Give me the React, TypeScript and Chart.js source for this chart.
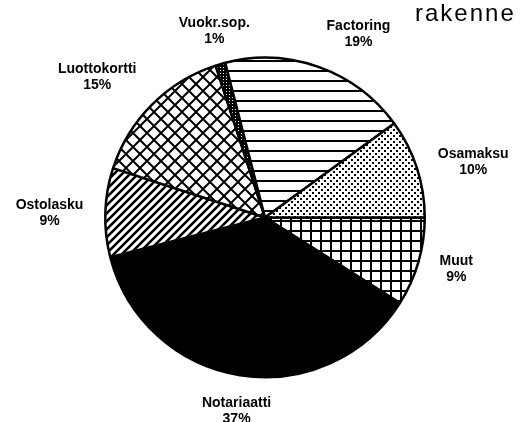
import React, { useEffect, useRef } from "react";
import { Chart, registerables } from "chart.js";

Chart.register(...registerables);

const categories = ["Muut", "Notariaatti", "Ostolasku", "Luottokortti", "Vuokr.sop.", "Factoring", "Osamaksu"];
const shares = [9, 37, 9, 15, 1, 19, 10];
const shareLabels = ["9%", "37%", "9%", "15%", "1%", "19%", "10%"];
const patternKinds = ["grid", "solid", "diag", "cross", "darkdots", "hlines", "dots"];
const titleText = "rakenne";

function makeTile(size: number, draw: (g: CanvasRenderingContext2D, s: number) => void, bg = "#fff") {
  const c = document.createElement("canvas");
  c.width = size;
  c.height = size;
  const g = c.getContext("2d")!;
  g.fillStyle = bg;
  g.fillRect(0, 0, size, size);
  g.fillStyle = "#000";
  g.strokeStyle = "#000";
  draw(g, size);
  const p = document.createElement("canvas").getContext("2d")!.createPattern(c, "repeat");
  return p as CanvasPattern;
}

function makePattern(kind: string): CanvasPattern | string {
  switch (kind) {
    case "grid":
      return makeTile(10, (g, s) => {
        g.fillRect(0, 0, 2, s);
        g.fillRect(0, 0, s, 2);
      });
    case "hlines":
      return makeTile(10, (g, s) => {
        g.fillRect(0, 0, s, 2);
      });
    case "diag":
      return makeTile(8, (g, s) => {
        g.lineWidth = 2.6;
        g.beginPath();
        g.moveTo(-1, s + 1);
        g.lineTo(s + 1, -1);
        g.moveTo(-2, 2);
        g.lineTo(2, -2);
        g.moveTo(s - 2, s + 2);
        g.lineTo(s + 2, s - 2);
        g.stroke();
      });
    case "cross":
      return makeTile(14, (g, s) => {
        g.lineWidth = 2;
        g.beginPath();
        g.moveTo(-1, s + 1);
        g.lineTo(s + 1, -1);
        g.moveTo(-1, -1);
        g.lineTo(s + 1, s + 1);
        g.stroke();
      });
    case "dots":
      return makeTile(6, (g) => {
        g.fillRect(0, 0, 2, 2);
        g.fillRect(3, 3, 2, 2);
      });
    case "darkdots":
      return makeTile(3, (g) => {
        g.fillStyle = "#fff";
        g.fillRect(1, 1, 1, 1);
      }, "#000");
    default:
      return "#000";
  }
}

const labelPlugin = {
  id: "outerLabels",
  afterDraw(chart: any) {
    const ctx: CanvasRenderingContext2D = chart.ctx;
    const meta = chart.getDatasetMeta(0);
    ctx.save();
    ctx.font = "bold 14px 'Liberation Sans', Arial, sans-serif";
    ctx.fillStyle = "#000";
    ctx.textAlign = "center";
    ctx.textBaseline = "alphabetic";
    const gap = 22;
    const halfBlock = 13;
    meta.data.forEach((arc: any, i: number) => {
      const { x, y, startAngle, endAngle, outerRadius } = arc.getProps(
        ["x", "y", "startAngle", "endAngle", "outerRadius"],
        true
      );
      const mid = (startAngle + endAngle) / 2;
      const l1 = categories[i];
      const l2 = shareLabels[i];
      const hw = Math.max(ctx.measureText(l1).width, ctx.measureText(l2).width) / 2;
      const c = Math.cos(mid);
      const s = Math.sin(mid);
      const r = outerRadius + gap;
      const ax = x + r * c;
      const ay = y + r * s;
      const ox = Math.abs(c) > 0.31 ? Math.sign(c) * hw : 0;
      const oy = Math.abs(s) > 0.5 ? Math.sign(s) * halfBlock : 0;
      const cx = ax + ox;
      const cy = ay + oy;
      ctx.fillText(l1, cx, cy - 3);
      ctx.fillText(l2, cx, cy + 13);
    });
    ctx.font = "24px 'Liberation Sans', Arial, sans-serif";
    (ctx as any).letterSpacing = "2px";
    ctx.textAlign = "left";
    ctx.fillText(titleText, 415, 21);
    ctx.restore();
  },
};

export default function App() {
  const ref = useRef<HTMLCanvasElement | null>(null);
  useEffect(() => {
    if (!ref.current) return;
    const chart = new Chart(ref.current, {
      type: "pie",
      data: {
        labels: categories,
        datasets: [
          {
            data: shares,
            backgroundColor: patternKinds.map(makePattern) as any,
            borderColor: "#000",
            borderWidth: 2.5,
            hoverOffset: 0,
          },
        ],
      },
      options: {
        responsive: false,
        animation: false,
        rotation: 90,
        layout: { padding: { left: 104, right: 95, top: 56, bottom: 43 } },
        plugins: {
          legend: { display: false },
          tooltip: { enabled: false },
          title: { display: false },
        },
        events: [],
      },
      plugins: [labelPlugin],
    });
    return () => chart.destroy();
  }, []);
  return (
    <div style={{ position: "fixed", left: 0, top: 0, width: 521, height: 422, background: "#fff" }}>
      <canvas ref={ref} width={521} height={422} style={{ width: 521, height: 422, display: "block" }} />
    </div>
  );
}
